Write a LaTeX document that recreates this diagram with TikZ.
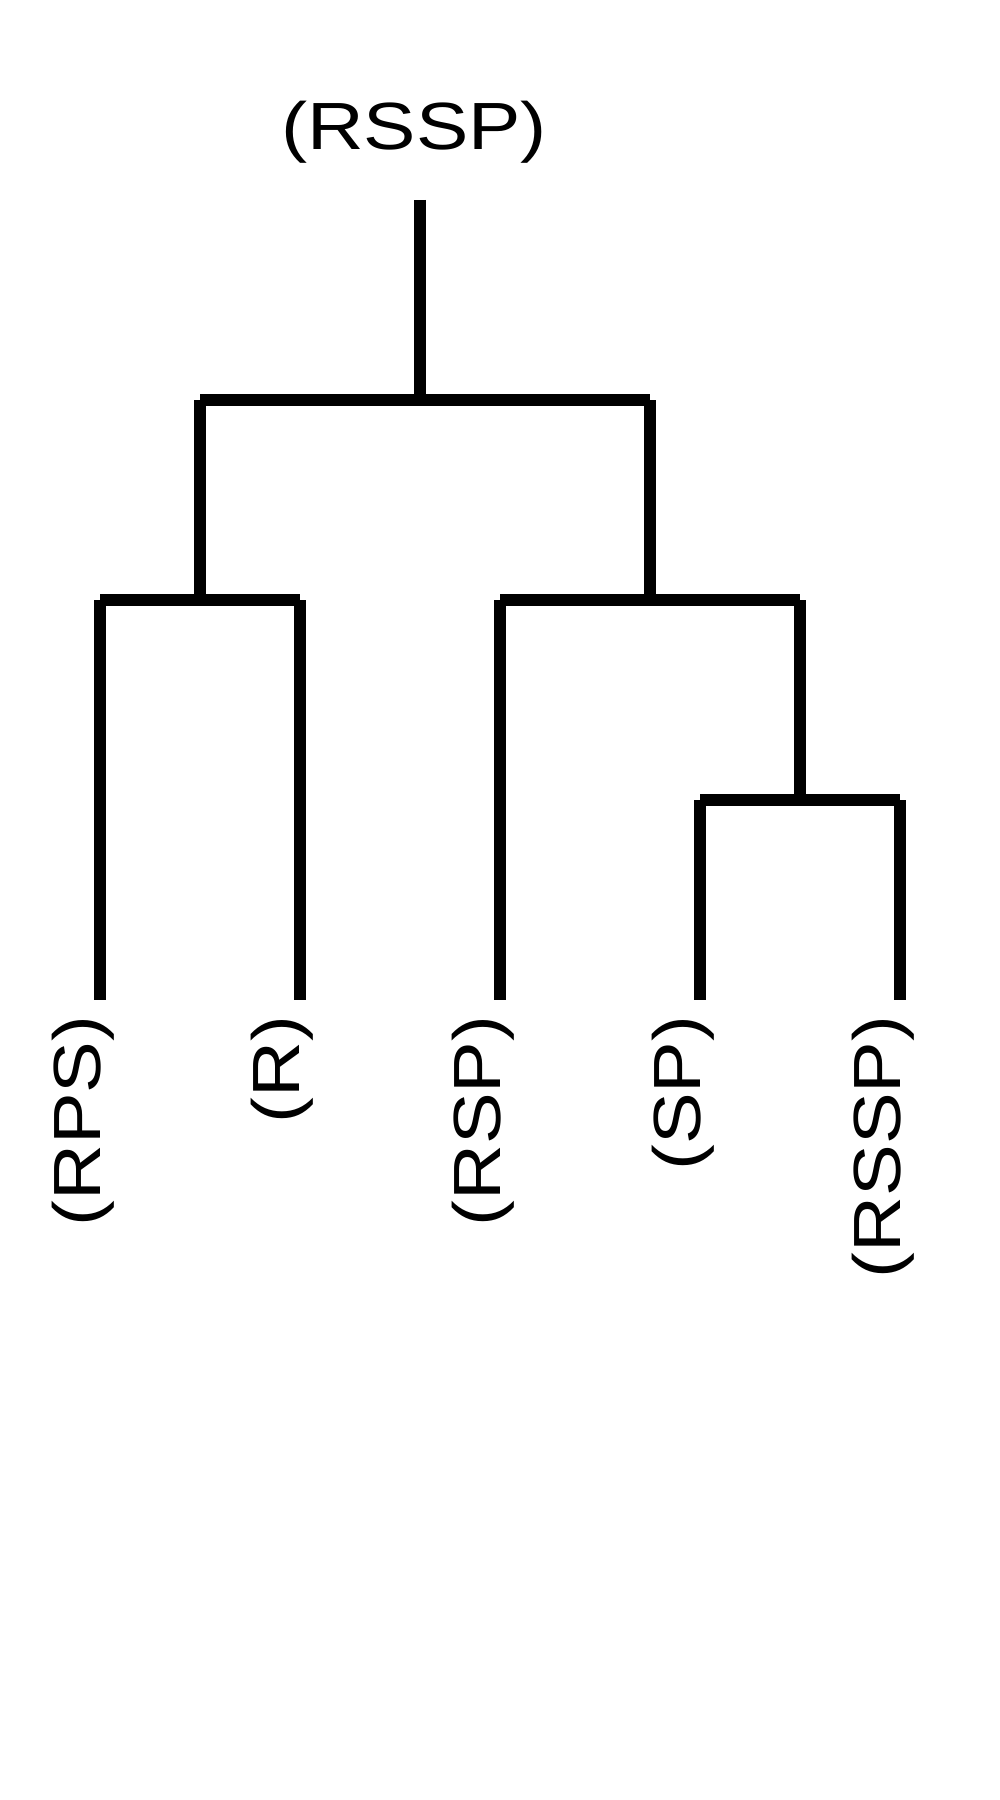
\documentclass[tikz,border=0pt]{standalone}
\usepackage{fontspec}
\setmainfont{Liberation Sans}
\usetikzlibrary{calc}

\newcommand{\treelink}[3]{%
	\draw[link] (#1) -- (#1 |- #3);
	\draw[link] (#2) -- (#2 |- #3);
	\draw[link] (#1 |- #3) -- (#2 |- #3);
}

\begin{document}
\begin{tikzpicture}[x=1cm, y=1cm,
	link/.style={line width=3.2pt, line cap=butt},
	leaflabel/.style={rotate=90, xscale=1.16, anchor=base east, inner sep=0pt,
		font=\fontsize{19}{20}\selectfont},
	rootlabel/.style={xscale=1.175, anchor=base, inner sep=0pt, font=\fontsize{19}{20}\selectfont}]

	\useasboundingbox (0,0) rectangle (10,18);

	% leaves
	\coordinate (l1) at (1.0, 8.0);
	\coordinate (l2) at (3.0, 8.0);
	\coordinate (l3) at (5.0, 8.0);
	\coordinate (l4) at (7.0, 8.0);
	\coordinate (l5) at (9.0, 8.0);

	% merges
	\coordinate (m1) at (2.0, 12.0);
	\coordinate (m2) at (8.0, 10.0);
	\coordinate (m3) at (6.5, 12.0);
	\coordinate (m4) at (4.2, 14.0);
	\coordinate (top) at (4.2, 16.0);

	\treelink{l1}{l2}{m1}
	\treelink{l4}{l5}{m2}
	\treelink{l3}{m2}{m3}
	\treelink{m1}{m3}{m4}
	\draw[link] (top) -- (m4);

	\node[rootlabel] (root) at (4.14, 16.5) {(RSSP)};

	\node[leaflabel] (t1) at ($(l1)+(0,-0.15)$) {(RPS)};
	\node[leaflabel] (t2) at ($(l2)+(0,-0.15)$) {(R)};
	\node[leaflabel] (t3) at ($(l3)+(0,-0.15)$) {(RSP)};
	\node[leaflabel] (t4) at ($(l4)+(0,-0.15)$) {(SP)};
	\node[leaflabel] (t5) at ($(l5)+(0,-0.15)$) {(RSSP)};

\end{tikzpicture}
\end{document}
